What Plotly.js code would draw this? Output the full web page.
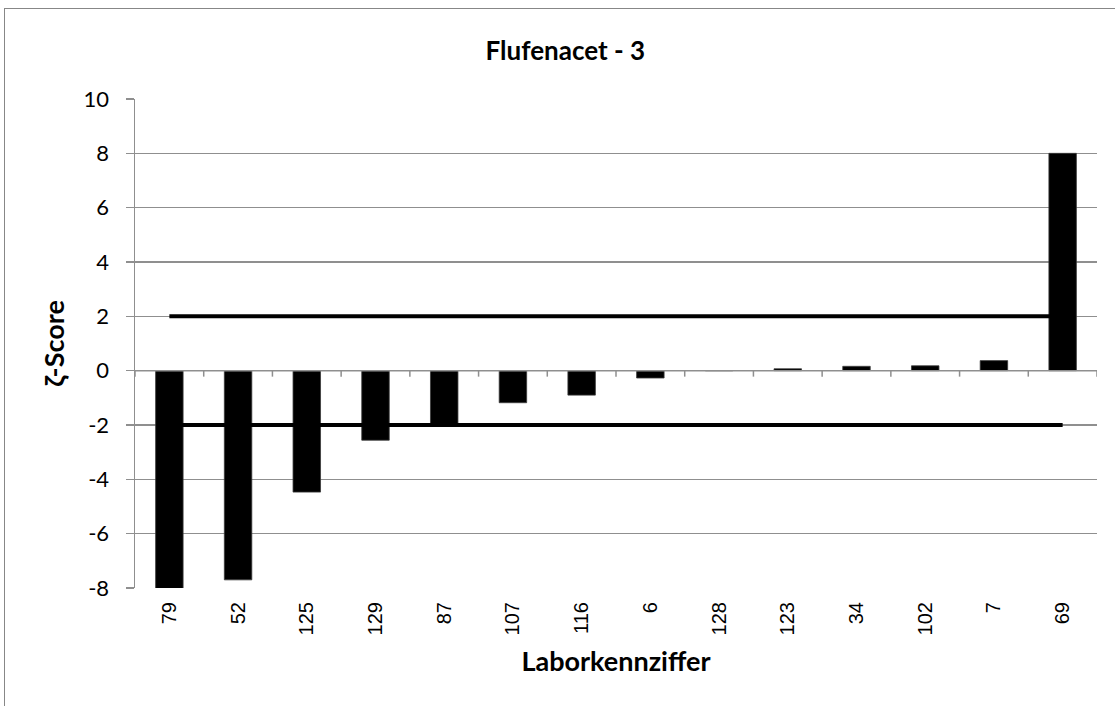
<!DOCTYPE html>
<html>
<head>
<meta charset="utf-8">
<script src="https://cdn.plot.ly/plotly-3.0.1.min.js"></script>
<style>
  html, body { margin: 0; padding: 0; overflow: hidden; background: #fff; }
  #chart { width: 1115px; height: 706px; position: absolute; left: 0; top: 0; }
  #frame { position: absolute; left: 4px; top: 8px; width: 3000px; height: 3000px;
           border-left: 1.5px solid #878787; border-top: 1.5px solid #878787; pointer-events: none; }
</style>
</head>
<body>
<div id="chart"></div>
<div id="frame"></div>
<script>
// ---- data ----
const labs = ["79", "52", "125", "129", "87", "107", "116", "6", "128", "123", "34", "102", "7", "69"];
const zScores = [-8.1, -7.7, -4.47, -2.56, -2.0, -1.18, -0.9, -0.27, 0, 0.07, 0.16, 0.18, 0.37, 8.0];
const upperLimit = [2, 2, 2, 2, 2, 2, 2, 2, 2, 2, 2, 2, 2, 2];
const lowerLimit = [-2, -2, -2, -2, -2, -2, -2, -2, -2, -2, -2, -2, -2, -2];
const yTicks = [-8, -6, -4, -2, 0, 2, 4, 6, 8, 10];

const gridCol = '#8f8f8f';

const traces = [
  {
    type: 'bar', x: labs, y: zScores,
    marker: { color: '#000000', line: { color: '#3a3a3a', width: 0.8 } },
    hoverinfo: 'x+y', showlegend: false
  },
  {
    type: 'scatter', mode: 'lines', x: labs, y: upperLimit,
    line: { color: '#000000', width: 4 }, showlegend: false
  },
  {
    type: 'scatter', mode: 'lines', x: labs, y: lowerLimit,
    line: { color: '#000000', width: 4 }, showlegend: false
  }
];

// zero-crossing horizontal axis with tick marks at category boundaries
const shapes = [{
  type: 'line', xref: 'x', yref: 'y', layer: 'above',
  x0: -0.5, x1: labs.length - 0.5, y0: 0, y1: 0,
  line: { color: gridCol, width: 1.5 }
}];
for (let k = 0; k <= labs.length; k++) {
  shapes.push({
    type: 'line', xref: 'x', yref: 'y', layer: 'above',
    x0: k - 0.5, x1: k - 0.5, y0: 0, y1: -0.22,
    line: { color: gridCol, width: 1.5 }
  });
}

const layout = {
  width: 1115, height: 706,
  margin: { l: 135, r: 18, t: 99, b: 118 },
  paper_bgcolor: 'rgba(0,0,0,0)', plot_bgcolor: '#ffffff',
  bargap: 0.6,
  title: {
    text: '<b>Flufenacet - 3</b>',
    font: { family: 'Lato, "Open Sans", sans-serif', size: 26, color: '#000' },
    x: 0.507, xref: 'container', xanchor: 'center',
    y: 1 - 51 / 706, yref: 'container', yanchor: 'middle'
  },
  xaxis: {
    type: 'category', categoryorder: 'array', categoryarray: labs,
    range: [-0.5, labs.length - 0.5],
    tickangle: -90,
    tickfont: { family: '"Liberation Sans", Arial, sans-serif', size: 20, color: '#000' },
    ticks: '', showgrid: false, showline: false, zeroline: false,
    ticklabelstandoff: 9,
    automargin: false,
    title: {
      text: '<b>Laborkennziffer</b>',
      font: { family: 'Lato, "Open Sans", sans-serif', size: 27, color: '#000' },
      standoff: 17
    }
  },
  yaxis: {
    range: [-8, 10], tickvals: yTicks, ticktext: yTicks.map(String),
    showgrid: true, gridcolor: gridCol, gridwidth: 1.5,
    zeroline: false,
    showline: true, linecolor: gridCol, linewidth: 1.5,
    ticks: 'outside', ticklen: 8, tickcolor: gridCol, tickwidth: 1.5,
    tickfont: { family: 'Lato, "Open Sans", sans-serif', size: 22, color: '#000' },
    ticklabelstandoff: 12,
    automargin: false,
    title: {
      text: '<b>ζ-Score</b>',
      font: { family: 'Lato, "Open Sans", sans-serif', size: 27, color: '#000' },
      standoff: 11
    }
  },
  shapes: shapes,
  showlegend: false
};

Plotly.newPlot('chart', traces, layout, { displayModeBar: false, staticPlot: true });
</script>
</body>
</html>
